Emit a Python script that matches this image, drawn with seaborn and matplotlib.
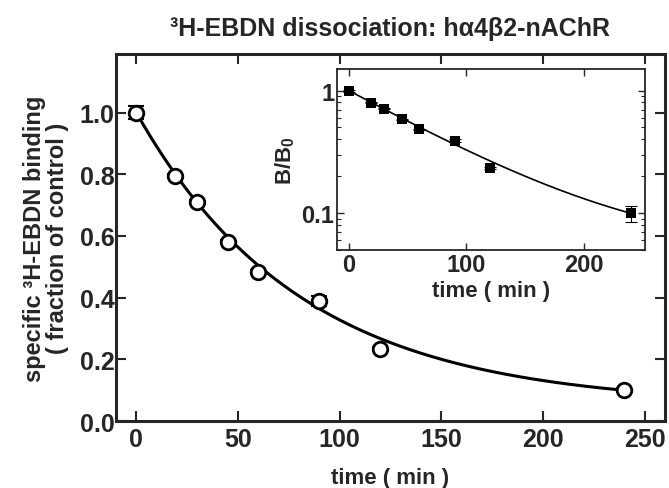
import numpy as np
import pandas as pd
import matplotlib
matplotlib.use("Agg")
import matplotlib.pyplot as plt
import seaborn as sns

# data
time_min = [0, 19, 30, 45, 60, 90, 120, 240]
binding = [1.0, 0.795, 0.71, 0.582, 0.483, 0.39, 0.235, 0.1]
binding_err = [0.02, 0.006, 0.006, 0.006, 0.006, 0.016, 0.006, 0.006]
inset_err = [0.02, 0.005, 0.005, 0.005, 0.005, 0.01, 0.005, 0.015]

# fit: B/B0 = c + (1 - c) * exp(-k t)
fit_plateau = 0.05
fit_k = 0.0123
fit_tmax = 240

title_text = "³H-EBDN dissociation: hα4β2-nAChR"

sns.set_theme(style="ticks")
plt.rcParams["font.family"] = ["Liberation Sans", "DejaVu Sans"]
plt.rcParams["font.weight"] = "bold"
plt.rcParams["mathtext.default"] = "regular"

df = pd.DataFrame({"time": time_min, "binding": binding})
t_fit = np.linspace(0, fit_tmax, 300)
fit = pd.DataFrame({"time": t_fit,
                    "binding": fit_plateau + (1 - fit_plateau) * np.exp(-fit_k * t_fit)})

fig = plt.figure(figsize=(6.69, 4.89), dpi=100)
ax = fig.add_axes([0.1734, 0.137, 0.8206, 0.7505])

sns.lineplot(data=fit, x="time", y="binding", ax=ax, color="black", lw=2.2)
ax.errorbar(time_min, binding, yerr=binding_err, fmt="none", ecolor="black",
            elinewidth=1.5, capsize=6, capthick=1.5, zorder=3)
sns.scatterplot(data=df, x="time", y="binding", ax=ax, marker="o", s=110,
                facecolor="white", edgecolor="black", linewidth=2, zorder=4)

ax.set_xlim(-10, 260)
ax.set_ylim(0, 1.19)
ax.set_xticks([0, 50, 100, 150, 200, 250])
ax.set_yticks([0.0, 0.2, 0.4, 0.6, 0.8, 1.0])
ax.set_yticklabels(["0.0", "0.2", "0.4", "0.6", "0.8", "1.0"])
ax.tick_params(direction="in", top=True, right=True, length=7, width=1.5,
               labelsize=18)
ax.tick_params(axis="y", pad=1)
ax.tick_params(axis="x", pad=4)
for s in ax.spines.values():
    s.set_linewidth(2.2)
    s.set_visible(True)
ax.set_xlabel("time ( min )", fontsize=16, fontweight="bold", labelpad=12)
ax.set_ylabel("specific ³H-EBDN binding\n( fraction of control )", fontsize=17,
              fontweight="bold", labelpad=8, linespacing=1.0)
ax.set_title(title_text, fontsize=18, fontweight="bold", pad=14)

# inset: log scale
ins = fig.add_axes([0.5037, 0.4867, 0.4604, 0.3702])
sns.lineplot(data=fit, x="time", y="binding", ax=ins, color="black", lw=1.2)
ins.errorbar(time_min, binding, yerr=inset_err, fmt="none", ecolor="black",
             elinewidth=0.8, capsize=4, capthick=0.8, zorder=3)
sns.scatterplot(data=df, x="time", y="binding", ax=ins, marker="s", s=42,
                color="black", edgecolor="black", linewidth=0, zorder=4)
ins.set_yscale("log")
ins.set_xlim(-10, 252)
ins.set_ylim(0.05, 1.5)
ins.set_xticks([0, 100, 200])
ins.set_yticks([0.1, 1])
ins.set_yticklabels(["0.1", "1"])
ins.tick_params(which="major", direction="in", top=True, right=True, length=5,
                width=1, labelsize=17, pad=2)
ins.tick_params(which="minor", direction="in", right=True, left=True, length=3, width=0.8)
for s in ins.spines.values():
    s.set_linewidth(1.3)
    s.set_visible(True)
ins.set_xlabel("time ( min )", fontsize=16, fontweight="bold", labelpad=3)
ins.set_ylabel("B/B$_0$", fontsize=16, fontweight="bold", labelpad=3)

fig.savefig("out.png", dpi=100)
